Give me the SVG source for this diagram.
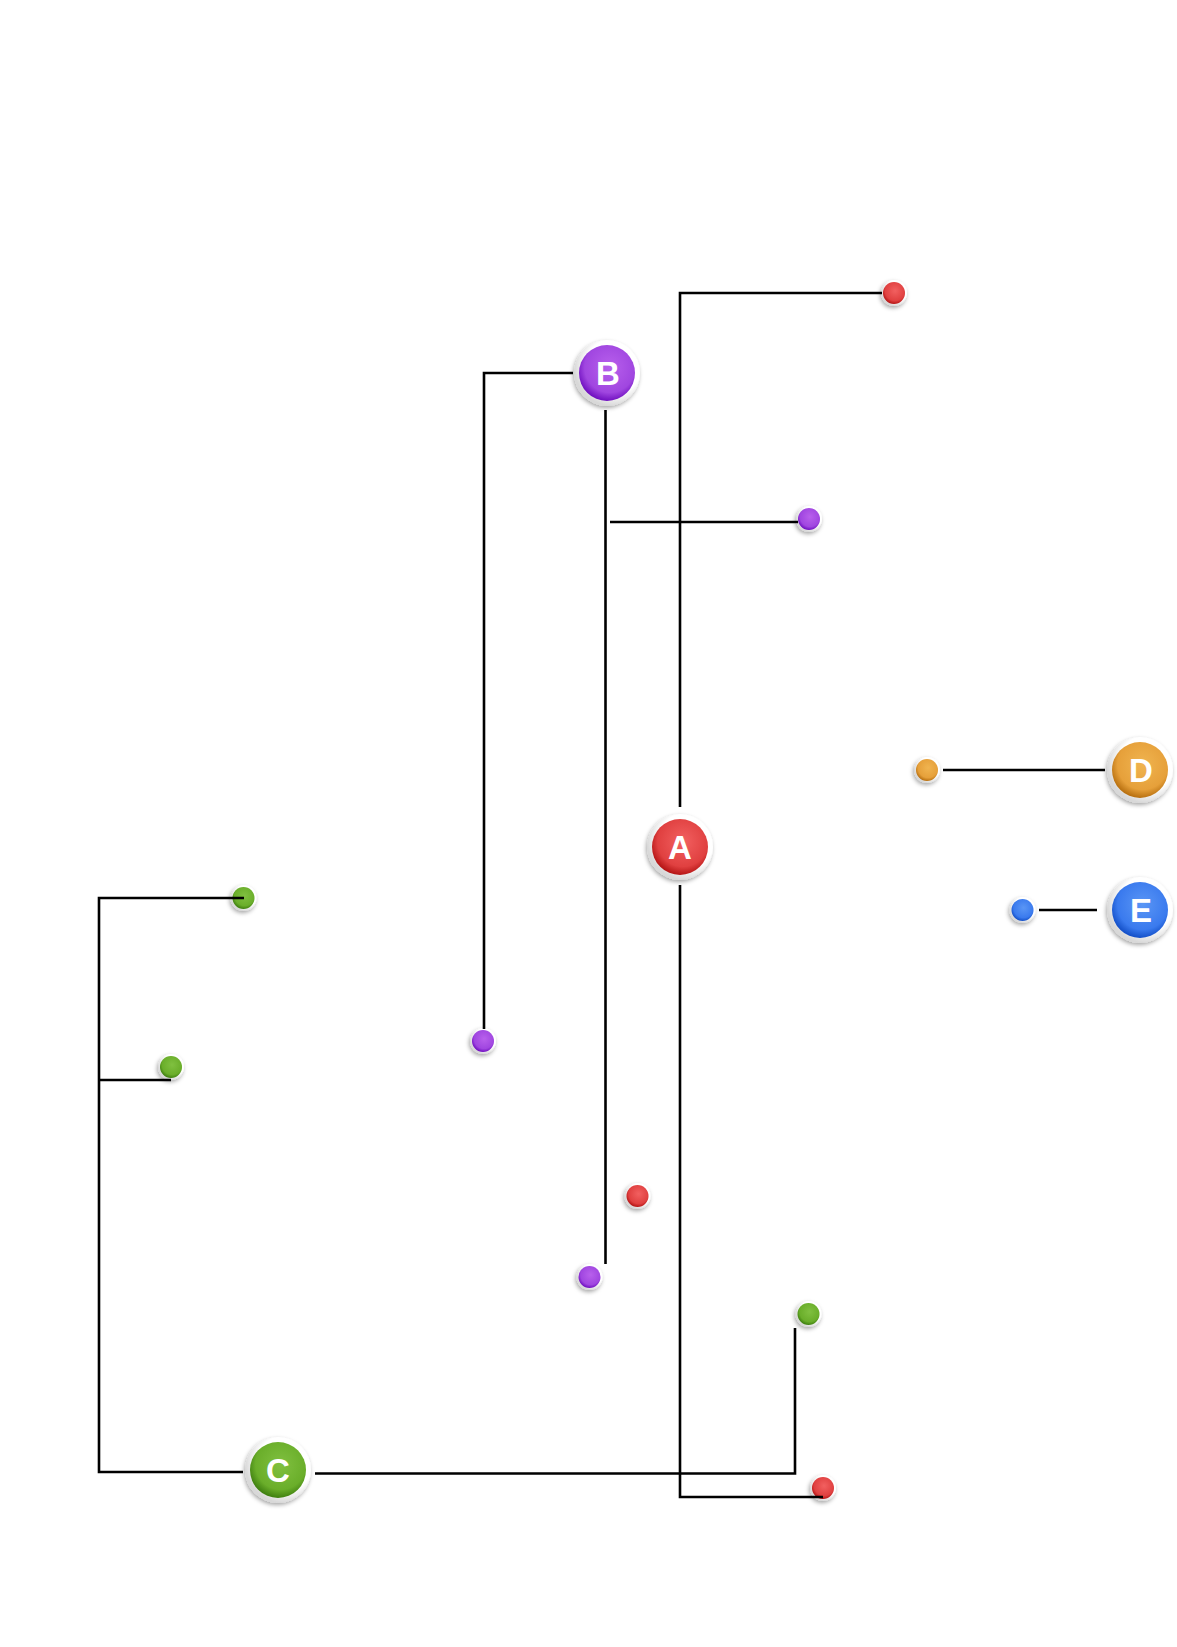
<svg xmlns="http://www.w3.org/2000/svg" width="1177" height="1647" viewBox="0 0 1177 1647">
<defs>
<filter id="sh" x="-30%" y="-30%" width="160%" height="160%">
<feDropShadow dx="-1" dy="2" stdDeviation="2" flood-color="#000" flood-opacity="0.35"/>
</filter>
<radialGradient id="ring" cx="60%" cy="40%" r="60%">
<stop offset="0.7" stop-color="#ffffff"/>
<stop offset="1" stop-color="#d8d8d8"/>
</radialGradient>
<radialGradient id="gRed" cx="55%" cy="40%" r="60%"><stop offset="0" stop-color="#f26060"/><stop offset="0.75" stop-color="#e04040"/><stop offset="1" stop-color="#b51515"/></radialGradient>
<radialGradient id="gPur" cx="55%" cy="40%" r="60%"><stop offset="0" stop-color="#b860ec"/><stop offset="0.75" stop-color="#a046e0"/><stop offset="1" stop-color="#7010c0"/></radialGradient>
<radialGradient id="gGrn" cx="55%" cy="40%" r="60%"><stop offset="0" stop-color="#80c040"/><stop offset="0.75" stop-color="#6aae2a"/><stop offset="1" stop-color="#3f8010"/></radialGradient>
<radialGradient id="gOrg" cx="55%" cy="40%" r="60%"><stop offset="0" stop-color="#f0b450"/><stop offset="0.75" stop-color="#e6a03a"/><stop offset="1" stop-color="#b87010"/></radialGradient>
<radialGradient id="gBlu" cx="55%" cy="40%" r="60%"><stop offset="0" stop-color="#5a96f5"/><stop offset="0.75" stop-color="#3a7aee"/><stop offset="1" stop-color="#1450c8"/></radialGradient>
</defs>
<style>
.ln{fill:none;stroke:#000;stroke-width:2.6}
.ring{fill:url(#ring);filter:url(#sh)}
.lbl{font-family:"Liberation Sans",Arial,sans-serif;font-weight:bold;font-size:33px;fill:#fff;text-anchor:middle}
</style>
<rect width="1177" height="1647" fill="#fff"/>
<g id="node-A"><circle class="ring" cx="680" cy="847" r="33"/><circle cx="680" cy="847" r="28" fill="url(#gRed)"/><text class="lbl" x="680" y="859">A</text></g>
<g id="node-B"><circle class="ring" cx="607" cy="373" r="33"/><circle cx="607" cy="373" r="28" fill="url(#gPur)"/><text class="lbl" x="608" y="385">B</text></g>
<g id="node-C"><circle class="ring" cx="278" cy="1470" r="33"/><circle cx="278" cy="1470" r="28" fill="url(#gGrn)"/><text class="lbl" x="278" y="1482">C</text></g>
<g id="node-D"><circle class="ring" cx="1140" cy="770" r="33"/><circle cx="1140" cy="770" r="28" fill="url(#gOrg)"/><text class="lbl" x="1141" y="782">D</text></g>
<g id="node-E"><circle class="ring" cx="1140" cy="910" r="33"/><circle cx="1140" cy="910" r="28" fill="url(#gBlu)"/><text class="lbl" x="1141" y="922">E</text></g>
<g id="leaf-r1"><circle class="ring" cx="894" cy="293" r="13"/><circle cx="894" cy="293" r="11" fill="url(#gRed)"/></g>
<g id="leaf-r2"><circle class="ring" cx="637.5" cy="1196" r="13"/><circle cx="637.5" cy="1196" r="11" fill="url(#gRed)"/></g>
<g id="leaf-r3"><circle class="ring" cx="823" cy="1488" r="13"/><circle cx="823" cy="1488" r="11" fill="url(#gRed)"/></g>
<g id="leaf-p1"><circle class="ring" cx="809" cy="519" r="13"/><circle cx="809" cy="519" r="11" fill="url(#gPur)"/></g>
<g id="leaf-p2"><circle class="ring" cx="483" cy="1041" r="13"/><circle cx="483" cy="1041" r="11" fill="url(#gPur)"/></g>
<g id="leaf-p3"><circle class="ring" cx="589.5" cy="1277" r="13"/><circle cx="589.5" cy="1277" r="11" fill="url(#gPur)"/></g>
<g id="leaf-g1"><circle class="ring" cx="243.5" cy="898" r="13"/><circle cx="243.5" cy="898" r="11" fill="url(#gGrn)"/></g>
<g id="leaf-g2"><circle class="ring" cx="171" cy="1067" r="13"/><circle cx="171" cy="1067" r="11" fill="url(#gGrn)"/></g>
<g id="leaf-g3"><circle class="ring" cx="808.5" cy="1314" r="13"/><circle cx="808.5" cy="1314" r="11" fill="url(#gGrn)"/></g>
<g id="leaf-o1"><circle class="ring" cx="927" cy="770" r="13"/><circle cx="927" cy="770" r="11" fill="url(#gOrg)"/></g>
<g id="leaf-b1"><circle class="ring" cx="1022.5" cy="910" r="13"/><circle cx="1022.5" cy="910" r="11" fill="url(#gBlu)"/></g>
<g id="connectors">
<path class="ln" d="M680,807 V293 H882"/>
<path class="ln" d="M680,885 V1497 H823"/>
<path class="ln" d="M573,373 H484 V1029"/>
<path class="ln" d="M605.5,410 V1264"/>
<path class="ln" d="M610,522 H798"/>
<path class="ln" d="M243,1472 H99 V898 H244"/>
<path class="ln" d="M99,1080 H171"/>
<path class="ln" d="M315,1473.5 H795 V1328"/>
<path class="ln" d="M943,770 H1105"/>
<path class="ln" d="M1039,910 H1097"/>
</g>
</svg>
